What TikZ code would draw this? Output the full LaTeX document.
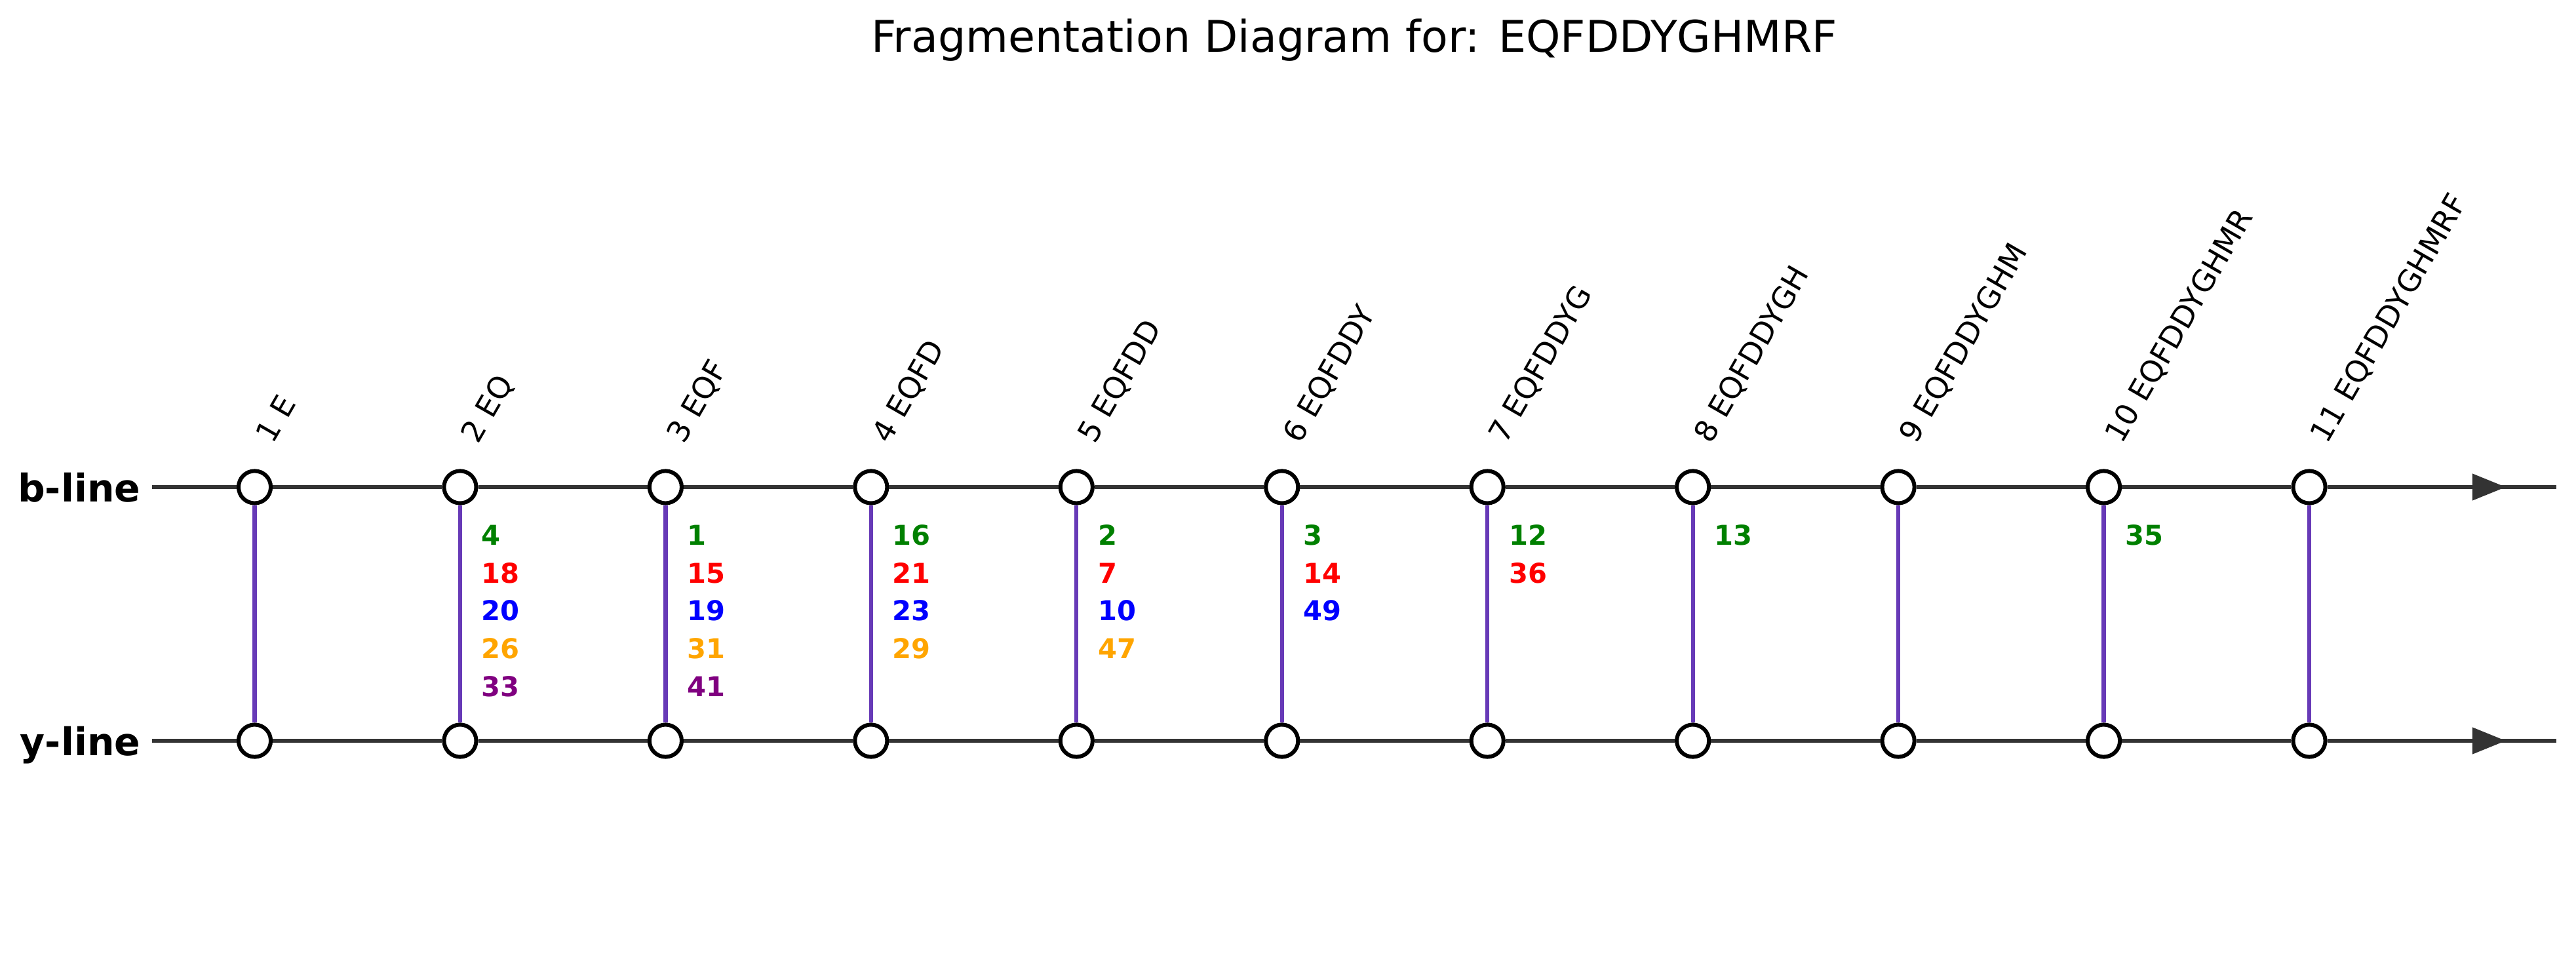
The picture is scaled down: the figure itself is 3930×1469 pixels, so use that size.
\documentclass[tikz,border=0pt]{standalone}
\usepackage{fontspec}
\setmainfont{DejaVu Sans}
\usetikzlibrary{arrows.meta}
\definecolor{linegray}{HTML}{333333}
\definecolor{vpurple}{HTML}{673AB7}
\definecolor{mgreen}{RGB}{0,128,0}
\definecolor{mred}{RGB}{255,0,0}
\definecolor{mblue}{RGB}{0,0,255}
\definecolor{morange}{RGB}{255,165,0}
\definecolor{mpurple}{RGB}{128,0,128}
\begin{document}
\begin{tikzpicture}[x=0.24pt,y=-0.24pt,
  site/.style={circle,draw=black,fill=white,line width=1.45pt,minimum size=11.8pt,inner sep=0pt},
  hline/.style={draw=linegray,line width=1.5pt},
  vline/.style={draw=vpurple,line width=1.5pt},
  ionlabel/.style={anchor=base west,inner sep=0pt,font=\fontsize{10}{12}\selectfont\bfseries},
  fraglabel/.style={anchor=base west,inner sep=0pt,rotate=60,font=\fontsize{11}{13}\selectfont},
  linelabel/.style={anchor=base east,inner sep=0pt,font=\fontsize{14}{17}\selectfont\bfseries},
  arrowline/.style={-{Triangle[length=12.3pt,width=9.5pt]},draw=linegray,fill=linegray,line width=1.5pt}
]
\useasboundingbox (0,0) rectangle (3930,1469);

% title
\node[anchor=base,inner sep=0pt,font=\fontsize{16}{19}\selectfont] (title) at (2066,80) {Fragmentation Diagram for: EQFDDYGHMRF};

% line labels
\node[linelabel] (blab) at (215,765.3) {b-line};
\node[linelabel] (ylab) at (215,1152.3) {y-line};

% end coordinates of the two lines
\coordinate (bs) at (232,743);
\coordinate (ba) at (3678,743);
\coordinate (bt) at (3823,743);
\coordinate (be) at (3900,743);
\coordinate (ys) at (232,1130);
\coordinate (ya) at (3678,1130);
\coordinate (yt) at (3823,1130);
\coordinate (ye) at (3900,1130);

% sites
\foreach \i in {1,...,11} {
  \pgfmathsetmacro\xx{388.5+313.45*(\i-1)}
  \node[site] (b\i) at (\xx,743) {};
  \node[site] (y\i) at (\xx,1130) {};
}

% horizontal connectors
\draw[hline] (bs) -- (b1);
\draw[hline] (ys) -- (y1);
\foreach \i [evaluate=\i as \j using int(\i+1)] in {1,...,10} {
  \draw[hline] (b\i) -- (b\j);
  \draw[hline] (y\i) -- (y\j);
}
\draw[hline] (b11) -- (be);
\draw[hline] (y11) -- (ye);
\draw[arrowline] (ba) -- (bt);
\draw[arrowline] (ya) -- (yt);

% vertical connectors
\foreach \i in {1,...,11} {
  \draw[vline] (b\i) -- (y\i);
}

% fragment labels
\foreach \i/\s in {1/E,2/EQ,3/EQF,4/EQFD,5/EQFDD,6/EQFDDY,7/EQFDDYG,8/EQFDDYGH,9/EQFDDYGHM,10/EQFDDYGHMR,11/EQFDDYGHMRF} {
  \pgfmathsetmacro\xx{388.5+313.45*(\i-1)+27.4}
  \node[fraglabel] (f\i) at (\xx,679.2) {\i\ \s};
}

% ion numbers
\foreach \i/\r/\n/\c in {
  2/0/4/mgreen,2/1/18/mred,2/2/20/mblue,2/3/26/morange,2/4/33/mpurple,
  3/0/1/mgreen,3/1/15/mred,3/2/19/mblue,3/3/31/morange,3/4/41/mpurple,
  4/0/16/mgreen,4/1/21/mred,4/2/23/mblue,4/3/29/morange,
  5/0/2/mgreen,5/1/7/mred,5/2/10/mblue,5/3/47/morange,
  6/0/3/mgreen,6/1/14/mred,6/2/49/mblue,
  7/0/12/mgreen,7/1/36/mred,
  8/0/13/mgreen,
  10/0/35/mgreen} {
  \pgfmathsetmacro\xx{388.5+313.45*(\i-1)+32}
  \pgfmathsetmacro\yy{831.7+57.6*\r}
  \node[ionlabel,text=\c] (n\i-\r) at (\xx,\yy) {\n};
}
\end{tikzpicture}
\end{document}
